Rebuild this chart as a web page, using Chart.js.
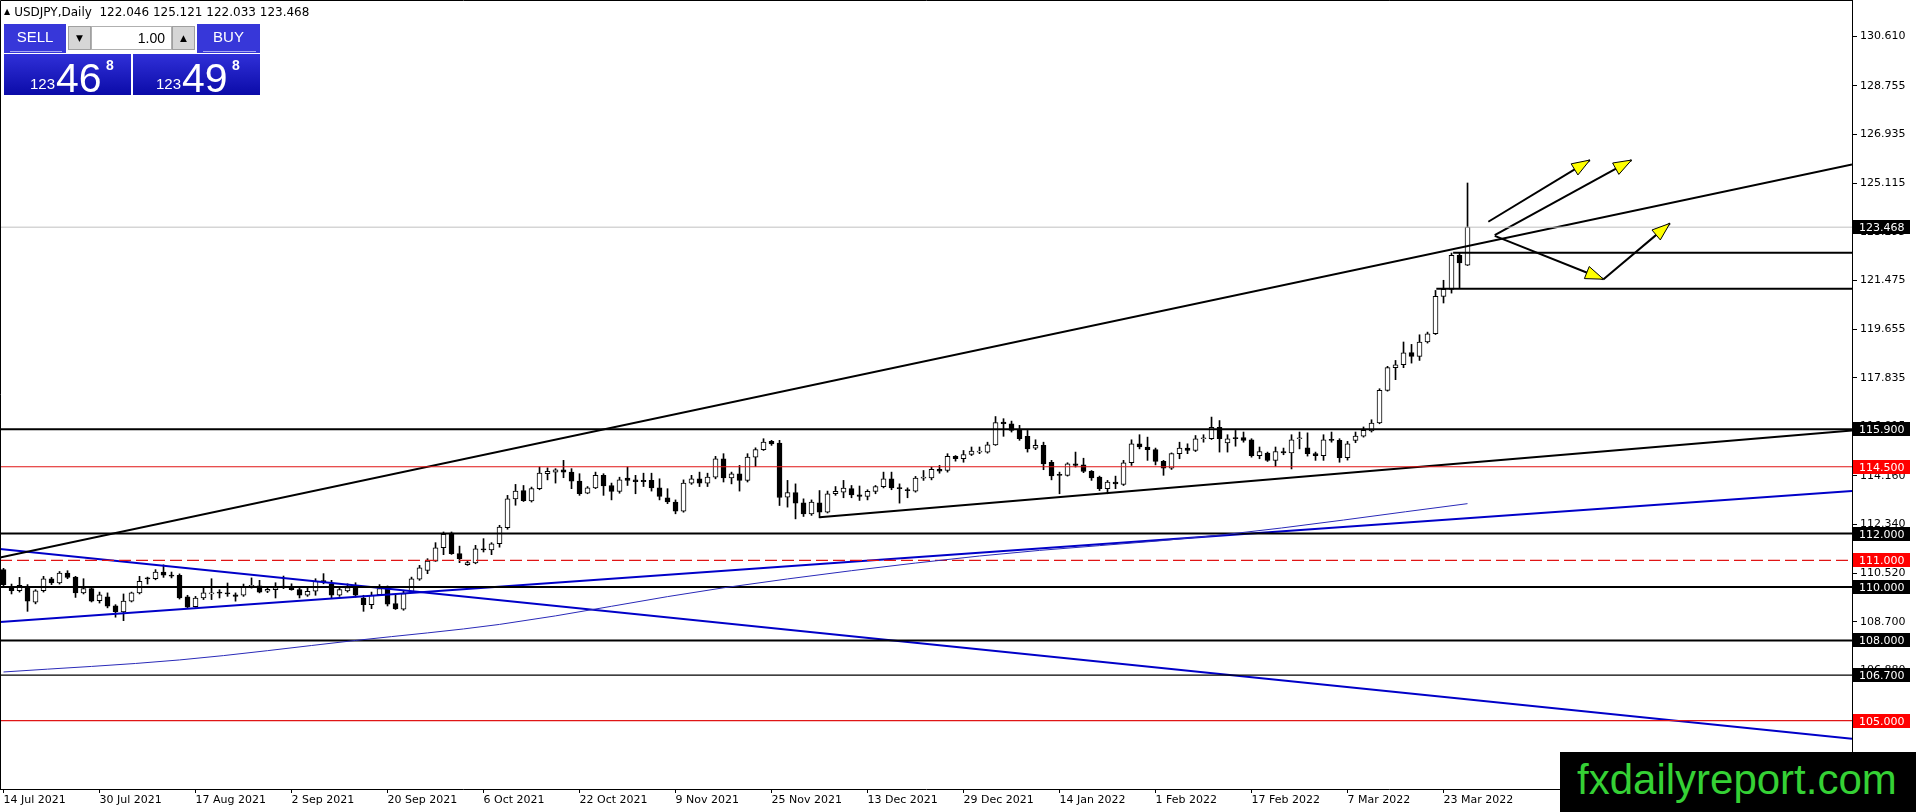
<!DOCTYPE html>
<html>
<head>
<meta charset="utf-8">
<title>USDJPY,Daily</title>
<script src="https://cdn.jsdelivr.net/npm/chart.js@4.4.1/dist/chart.umd.min.js"></script>
<style>
  html, body { margin: 0; padding: 0; background: #fff; overflow: hidden; }
  #wrap { position: relative; width: 1916px; height: 812px; }
  #chart { position: absolute; left: 0; top: 0; }
  #hdr { position: absolute; left: 4px; top: 5px; font: 12px "DejaVu Sans", sans-serif; color: #000; white-space: pre; }
  #hdr .tri { font-size: 8px; vertical-align: 2px; margin-right: 4px; }
  .box { position: absolute; box-sizing: border-box; }
  .btn { background: #3737d9; color: #fff; font: 15px "Liberation Sans", sans-serif; text-align: center; line-height: 26px; }
  .btn .ul { position: absolute; left: 6px; right: 4px; bottom: 1px; height: 1px; background: #a8a8f0; }
  .spin { background: #d6d6d6; border: 1px solid #a0a0a0; font: 9px "DejaVu Sans", sans-serif; text-align: center; line-height: 22px; color: #000; }
  #lot { background: #fff; border: 1px solid #b0b0b0; font: 14px "Liberation Sans", sans-serif; text-align: right; padding-right: 6px; line-height: 22px; }
  .px { background: linear-gradient(#3030d8, #0b0ba8); color: #fff; font-family: "Liberation Sans", sans-serif; }
  .px span { position: absolute; }
  .px .s { font-size: 15px; top: 21px; }
  .px .b { font-size: 41px; top: 1px; }
  .px .sup { font-size: 14px; font-weight: bold; top: 3px; }
  #brand { position: absolute; left: 1560px; top: 752px; width: 356px; height: 60px; background: #000;
           color: #35d135; font: 42px "Liberation Sans", sans-serif; line-height: 56px; padding-left: 17px; box-sizing: border-box; }
</style>
</head>
<body>
<div id="wrap">
  <canvas id="chart" width="1916" height="812"></canvas>
  <div id="hdr"><span class="tri">▲</span>USDJPY,Daily  122.046 125.121 122.033 123.468</div>

  <div class="box btn" style="left:4px;top:24px;width:62px;height:29px;">SELL<div class="ul"></div></div>
  <div class="box spin" style="left:68px;top:26px;width:23px;height:24px;">▼</div>
  <div class="box" id="lot" style="left:91px;top:26px;width:81px;height:24px;">1.00</div>
  <div class="box spin" style="left:172px;top:26px;width:23px;height:24px;">▲</div>
  <div class="box btn" style="left:197px;top:24px;width:63px;height:29px;">BUY<div class="ul"></div></div>

  <div class="box px" style="left:4px;top:54px;width:127px;height:41px;">
    <span class="s" style="left:26px;">123</span><span class="b" style="left:52px;">46</span><span class="sup" style="left:102px;">8</span>
  </div>
  <div class="box px" style="left:133px;top:54px;width:127px;height:41px;">
    <span class="s" style="left:23px;">123</span><span class="b" style="left:49px;">49</span><span class="sup" style="left:99px;">8</span>
  </div>

  <div id="brand">fxdailyreport.com</div>
</div>

<script>
// ---- data (bar index 0 = 14 Jul 2021, last = 28 Mar 2022) ----
const dateLabels = ["14 Jul 2021", "30 Jul 2021", "17 Aug 2021", "2 Sep 2021", "20 Sep 2021", "6 Oct 2021",
  "22 Oct 2021", "9 Nov 2021", "25 Nov 2021", "13 Dec 2021", "29 Dec 2021", "14 Jan 2022",
  "1 Feb 2022", "17 Feb 2022", "7 Mar 2022", "23 Mar 2022"];
const dateIdx = [0, 12, 24, 36, 48, 60, 72, 84, 96, 108, 120, 132, 144, 156, 168, 180];

const open = [
  110.65, 110.03, 109.86, 110.00, 109.43, 109.86, 110.31, 110.15, 110.52, 110.37,
  109.78, 109.94, 109.49, 109.63, 109.30, 109.07, 109.47, 109.78, 110.34, 110.31,
  110.56, 110.44, 110.44, 109.63, 109.26, 109.59, 109.74, 109.78, 109.75, 109.71,
  109.69, 110.03, 110.04, 109.84, 109.90, 110.00, 109.98, 109.90, 109.69, 109.84,
  110.21, 110.12, 109.69, 109.85, 109.98, 109.59, 109.34, 109.71, 109.96, 109.38,
  109.17, 109.81, 110.29, 110.62, 110.97, 111.47, 112.02, 111.25, 110.84, 110.90,
  111.43, 111.39, 111.62, 112.22, 113.30, 113.61, 113.22, 113.68, 114.24, 114.30,
  114.39, 114.30, 113.96, 113.51, 113.71, 114.18, 113.80, 113.58, 114.08, 114.01,
  113.99, 113.99, 113.71, 113.34, 113.18, 112.84, 113.89, 114.05, 113.89, 114.11,
  114.80, 114.08, 114.24, 113.99, 114.86, 115.14, 115.45, 115.39, 113.36, 113.53,
  113.15, 112.74, 113.15, 112.80, 113.49, 113.55, 113.68, 113.45, 113.39, 113.58,
  113.76, 114.05, 113.72, 113.64, 113.59, 114.07, 114.08, 114.40, 114.36, 114.89,
  114.80, 114.96, 115.05, 115.05, 115.32, 116.17, 116.11, 115.88, 115.64, 115.20,
  115.30, 114.67, 114.21, 114.18, 114.61, 114.57, 114.33, 114.11, 113.68, 113.93,
  113.84, 114.65, 115.36, 115.24, 115.14, 114.70, 114.45, 114.99, 115.20, 115.11,
  115.55, 115.55, 115.98, 115.39, 115.59, 115.59, 115.51, 114.92, 115.01, 114.74,
  115.07, 115.02, 115.55, 115.21, 114.99, 114.92, 115.52, 115.49, 114.84, 115.49,
  115.65, 115.84, 116.14, 117.36, 118.21, 118.32, 118.77, 118.63, 119.17, 119.48,
  120.88, 121.14, 122.41, 122.046];
const high = [
  110.70, 110.11, 110.36, 110.09, 109.90, 110.40, 110.36, 110.58, 110.61, 110.40,
  110.31, 109.96, 109.81, 109.78, 109.34, 109.74, 109.81, 110.40, 110.37, 110.65,
  110.83, 110.56, 110.49, 109.69, 109.65, 110.02, 110.31, 109.90, 110.15, 109.78,
  110.11, 110.34, 110.25, 109.96, 110.16, 110.41, 110.12, 110.00, 109.96, 110.31,
  110.50, 110.25, 109.96, 110.12, 110.16, 109.69, 109.81, 110.09, 110.04, 109.69,
  109.88, 110.37, 110.81, 111.06, 111.66, 112.06, 112.06, 111.53, 110.96, 111.56,
  111.81, 111.66, 112.31, 113.43, 113.84, 113.80, 113.74, 114.49, 114.46, 114.43,
  114.74, 114.43, 114.24, 113.76, 114.30, 114.24, 113.89, 114.11, 114.49, 114.18,
  114.26, 114.26, 114.05, 113.68, 113.26, 114.01, 114.18, 114.30, 114.26, 114.89,
  114.99, 114.30, 114.55, 114.99, 115.21, 115.55, 115.49, 115.49, 113.99, 113.86,
  113.30, 113.26, 113.61, 113.59, 113.76, 113.99, 113.80, 113.78, 113.64, 113.80,
  114.30, 114.30, 113.86, 113.71, 114.14, 114.36, 114.49, 114.55, 114.99, 114.92,
  115.11, 115.24, 115.24, 115.42, 116.38, 116.30, 116.21, 116.05, 115.86, 115.51,
  115.42, 114.74, 114.30, 114.65, 115.05, 114.82, 114.36, 114.15, 113.99, 114.15,
  114.74, 115.51, 115.70, 115.61, 115.20, 114.74, 115.02, 115.42, 115.36, 115.67,
  115.70, 116.36, 116.23, 115.70, 115.86, 115.80, 115.55, 115.24, 115.05, 115.24,
  115.20, 115.70, 115.80, 115.77, 115.05, 115.70, 115.80, 115.55, 115.45, 115.80,
  115.99, 116.26, 117.42, 118.26, 118.48, 119.17, 119.08, 119.44, 119.54, 121.10,
  121.48, 122.50, 122.50, 125.121];
const low = [
  110.05, 109.74, 109.81, 109.09, 109.37, 109.81, 110.09, 110.11, 110.31, 109.61,
  109.74, 109.44, 109.40, 109.22, 108.87, 108.74, 109.44, 109.74, 110.11, 110.27,
  110.36, 110.34, 109.55, 109.22, 109.24, 109.53, 109.53, 109.59, 109.65, 109.47,
  109.65, 109.96, 109.78, 109.79, 109.59, 109.94, 109.88, 109.59, 109.65, 109.69,
  110.12, 109.59, 109.65, 109.81, 109.62, 109.09, 109.19, 109.69, 109.29, 109.16,
  109.13, 109.79, 110.25, 110.50, 110.96, 111.21, 111.22, 110.91, 110.81, 110.87,
  111.31, 111.21, 111.49, 112.16, 113.06, 113.20, 113.18, 113.64, 114.01, 113.89,
  114.09, 113.68, 113.43, 113.49, 113.68, 113.43, 113.26, 113.51, 113.80, 113.49,
  113.76, 113.59, 113.26, 113.12, 112.74, 112.80, 113.84, 113.76, 113.76, 114.05,
  113.93, 113.86, 113.59, 113.93, 114.51, 115.11, 115.30, 113.05, 112.99, 112.55,
  112.64, 112.68, 112.59, 112.77, 113.43, 113.34, 113.34, 113.24, 113.26, 113.49,
  113.71, 113.64, 113.14, 113.34, 113.55, 113.99, 114.01, 114.26, 114.30, 114.71,
  114.67, 114.92, 114.99, 115.01, 115.30, 115.64, 115.80, 115.49, 115.05, 115.14,
  114.39, 114.01, 113.49, 114.15, 114.49, 114.28, 113.99, 113.61, 113.49, 113.68,
  113.80, 114.55, 115.17, 114.74, 114.57, 114.18, 114.40, 114.80, 114.99, 115.07,
  115.42, 115.52, 115.05, 115.05, 115.27, 115.42, 114.86, 114.80, 114.70, 114.52,
  114.95, 114.42, 115.17, 114.90, 114.74, 114.74, 115.42, 114.67, 114.75, 115.40,
  115.61, 115.80, 116.11, 117.33, 117.76, 118.21, 118.38, 118.48, 119.13, 119.45,
  120.63, 121.00, 121.18, 122.033];
const close = [
  110.09, 109.86, 110.06, 109.47, 109.86, 110.31, 110.15, 110.52, 110.36, 109.78,
  109.94, 109.47, 109.71, 109.28, 109.07, 109.47, 109.78, 110.21, 110.30, 110.56,
  110.44, 110.41, 109.59, 109.25, 109.59, 109.78, 109.78, 109.77, 109.74, 109.65,
  110.03, 110.06, 109.81, 109.91, 109.98, 110.01, 109.90, 109.69, 109.84, 110.21,
  110.20, 109.69, 109.90, 109.98, 109.69, 109.34, 109.69, 109.94, 109.36, 109.18,
  109.75, 110.31, 110.72, 110.97, 111.47, 111.97, 111.25, 111.06, 110.91, 111.43,
  111.39, 111.62, 112.24, 113.30, 113.59, 113.23, 113.68, 114.26, 114.33, 114.39,
  114.30, 113.96, 113.49, 113.71, 114.18, 113.78, 113.58, 114.01, 113.99, 113.94,
  113.94, 113.71, 113.39, 113.18, 112.84, 113.89, 114.05, 113.89, 114.11, 114.80,
  114.08, 114.24, 113.99, 114.86, 115.14, 115.42, 115.36, 113.35, 113.53, 113.14,
  112.74, 113.18, 112.80, 113.49, 113.58, 113.70, 113.45, 113.39, 113.58, 113.76,
  114.05, 113.71, 113.68, 113.61, 114.08, 114.11, 114.40, 114.34, 114.89, 114.80,
  114.96, 115.09, 115.06, 115.32, 116.15, 116.11, 115.86, 115.55, 115.17, 115.30,
  114.61, 114.16, 114.18, 114.61, 114.55, 114.33, 114.08, 113.68, 113.93, 113.86,
  114.65, 115.36, 115.24, 115.14, 114.70, 114.45, 114.99, 115.20, 115.11, 115.55,
  115.56, 115.98, 115.55, 115.55, 115.55, 115.49, 114.92, 115.07, 114.74, 115.07,
  115.02, 115.51, 115.57, 114.99, 114.92, 115.51, 115.49, 114.84, 115.36, 115.65,
  115.86, 116.14, 117.36, 118.21, 118.32, 118.76, 118.63, 119.17, 119.48, 120.88,
  121.14, 122.41, 122.13, 123.468];

// 200-day moving average, sampled off the thin blue curve
const maIdx = [0, 22, 44, 62, 90, 122, 152, 183];
const maVal = [106.82, 107.27, 108.00, 108.60, 109.97, 111.16, 111.94, 113.12];

// price axis
const yTicks = [130.610, 128.755, 126.935, 125.115, 123.295, 121.475, 119.655, 117.835,
  116.015, 114.160, 112.340, 110.520, 108.700, 106.880];

// horizontal levels
const heavyLevels = [115.900, 112.000, 110.000, 108.000];
const thinLevels = [106.700];
const redLevels = [114.500, 105.000];
const dashedLevels = [111.000];
const lastPrice = 123.468;
const segStart = [181.2, 179.1];
const segPrice = [122.51, 121.16];

// trend lines [fromIndex, fromPrice, toIndex, toPrice]
const blackTrends = [[-0.44, 111.10, 231.06, 125.81], [102.0, 112.61, 231.06, 115.86]];
const blueTrends = [[-0.44, 108.69, 231.06, 113.59], [-0.44, 111.42, 231.06, 104.32]];

// yellow arrows [index, price]
const arrowFrom = [[185.6, 123.67], [186.4, 123.17], [186.4, 123.14], [200.0, 121.52]];
const arrowTo = [[198.3, 125.98], [203.5, 125.98], [200.0, 121.52], [208.3, 123.61]];

// price tags on the right axis
const blackTags = [123.468, 115.900, 112.000, 110.000, 108.000, 106.700];
const redTags = [114.500, 111.000, 105.000];

const X_MIN = -0.44, X_MAX = 231.06, Y_MIN = 102.44, Y_MAX = 131.97;
const RED = '#e01515';
const BLUE = '#0000c8';

// ---- build datasets ----
const idx = open.map((_, i) => i);
const seg = (x1, y1, x2, y2, color, width, dash) => ({
  type: 'line',
  data: [{ x: x1, y: y1 }, { x: x2, y: y2 }],
  borderColor: color,
  borderWidth: width,
  borderDash: dash || [],
  pointRadius: 0,
  order: 0
});

const datasets = [
  {
    type: 'bar',
    data: idx.map(i => ({ x: i, y: [low[i], high[i]] })),
    backgroundColor: '#000',
    barThickness: 1,
    minBarLength: 1,
    grouped: false,
    order: 2
  },
  {
    type: 'bar',
    data: idx.map(i => ({ x: i, y: [open[i], close[i]] })),
    backgroundColor: idx.map(i => close[i] >= open[i] ? '#ffffff' : '#000000'),
    borderColor: '#000',
    borderWidth: 1,
    borderSkipped: false,
    barThickness: 5,
    minBarLength: 1,
    grouped: false,
    order: 1
  },
  {
    type: 'line',
    data: maIdx.map((v, k) => ({ x: v, y: maVal[k] })),
    borderColor: '#2a2ab8',
    borderWidth: 1,
    pointRadius: 0,
    cubicInterpolationMode: 'monotone',
    order: 0
  },
  seg(X_MIN, lastPrice, X_MAX, lastPrice, '#c0c0c0', 1)
];
heavyLevels.forEach(p => datasets.push(seg(X_MIN, p, X_MAX, p, '#000', 2)));
thinLevels.forEach(p => datasets.push(seg(X_MIN, p, X_MAX, p, '#000', 1.3)));
redLevels.forEach(p => datasets.push(seg(X_MIN, p, X_MAX, p, RED, 1.2)));
dashedLevels.forEach(p => datasets.push(seg(X_MIN, p, X_MAX, p, RED, 1.2, [12, 5])));
segStart.forEach((s, k) => datasets.push(seg(s, segPrice[k], X_MAX, segPrice[k], '#000', 2)));
blackTrends.forEach(t => datasets.push(seg(t[0], t[1], t[2], t[3], '#000', 2)));
blueTrends.forEach(t => datasets.push(seg(t[0], t[1], t[2], t[3], BLUE, 2)));
arrowFrom.forEach((a, k) => datasets.push(seg(a[0], a[1], arrowTo[k][0], arrowTo[k][1], '#000', 2)));

// frame, arrow heads and price tags
const decor = {
  id: 'decor',
  afterDatasetsDraw(chart) {
    const { ctx, scales: { x, y } } = chart;
    ctx.save();
    arrowTo.forEach((t, k) => {
      const x1 = x.getPixelForValue(arrowFrom[k][0]), y1 = y.getPixelForValue(arrowFrom[k][1]);
      const x2 = x.getPixelForValue(t[0]), y2 = y.getPixelForValue(t[1]);
      const len = Math.hypot(x2 - x1, y2 - y1);
      const ux = (x2 - x1) / len, uy = (y2 - y1) / len;
      const bx = x2 - ux * 18, by = y2 - uy * 18;
      ctx.beginPath();
      ctx.moveTo(x2, y2);
      ctx.lineTo(bx - uy * 6.5, by + ux * 6.5);
      ctx.lineTo(bx + uy * 6.5, by - ux * 6.5);
      ctx.closePath();
      ctx.fillStyle = '#ffff00';
      ctx.fill();
      ctx.strokeStyle = '#000';
      ctx.lineWidth = 1;
      ctx.stroke();
    });
    ctx.restore();
  },
  afterDraw(chart) {
    const { ctx, chartArea: a, scales: { y } } = chart;
    ctx.save();
    ctx.strokeStyle = '#000';
    ctx.lineWidth = 1;
    ctx.beginPath();
    ctx.moveTo(0.5, a.bottom);
    ctx.lineTo(0.5, 0.5);
    ctx.lineTo(a.right, 0.5);
    ctx.stroke();
    ctx.font = '11px "DejaVu Sans"';
    ctx.textBaseline = 'middle';
    const tag = (p, bg) => {
      const py = Math.round(y.getPixelForValue(p));
      ctx.fillStyle = bg;
      ctx.fillRect(a.right + 1, py - 7, 57, 14);
      ctx.fillStyle = '#fff';
      ctx.fillText(p.toFixed(3), a.right + 7, py + 1);
    };
    blackTags.forEach(p => tag(p, '#000'));
    redTags.forEach(p => tag(p, '#ff0000'));
    ctx.restore();
  }
};

new Chart(document.getElementById('chart'), {
  type: 'bar',
  data: { datasets },
  plugins: [decor],
  options: {
    responsive: false,
    devicePixelRatio: 1,
    animation: false,
    events: [],
    layout: { padding: 0 },
    plugins: { legend: { display: false }, tooltip: { enabled: false } },
    scales: {
      x: {
        type: 'linear',
        min: X_MIN,
        max: X_MAX,
        offset: false,
        grid: { display: true, offset: false, drawOnChartArea: false, tickLength: 4, color: '#000' },
        border: { display: true, color: '#000', width: 1 },
        ticks: {
          autoSkip: false,
          maxRotation: 0,
          align: 'start',
          padding: 1,
          color: '#000',
          font: { family: 'DejaVu Sans', size: 11 },
          callback: (v, i) => dateLabels[i]
        },
        afterBuildTicks: s => { s.ticks = dateIdx.map(v => ({ value: v })); },
        afterFit: s => { s.height = 23; s.paddingLeft = 0; s.paddingRight = 0; }
      },
      y: {
        type: 'linear',
        position: 'right',
        min: Y_MIN,
        max: Y_MAX,
        grid: { drawOnChartArea: false, tickLength: 5, color: '#000' },
        border: { color: '#000', width: 1 },
        ticks: {
          padding: 3,
          color: '#000',
          font: { family: 'DejaVu Sans', size: 11 },
          callback: (v, i) => yTicks[i].toFixed(3)
        },
        afterBuildTicks: s => { s.ticks = yTicks.map(v => ({ value: v })); },
        afterFit: s => { s.width = 64; s.paddingTop = 0; s.paddingBottom = 0; }
      }
    }
  }
});
</script>
</body>
</html>
